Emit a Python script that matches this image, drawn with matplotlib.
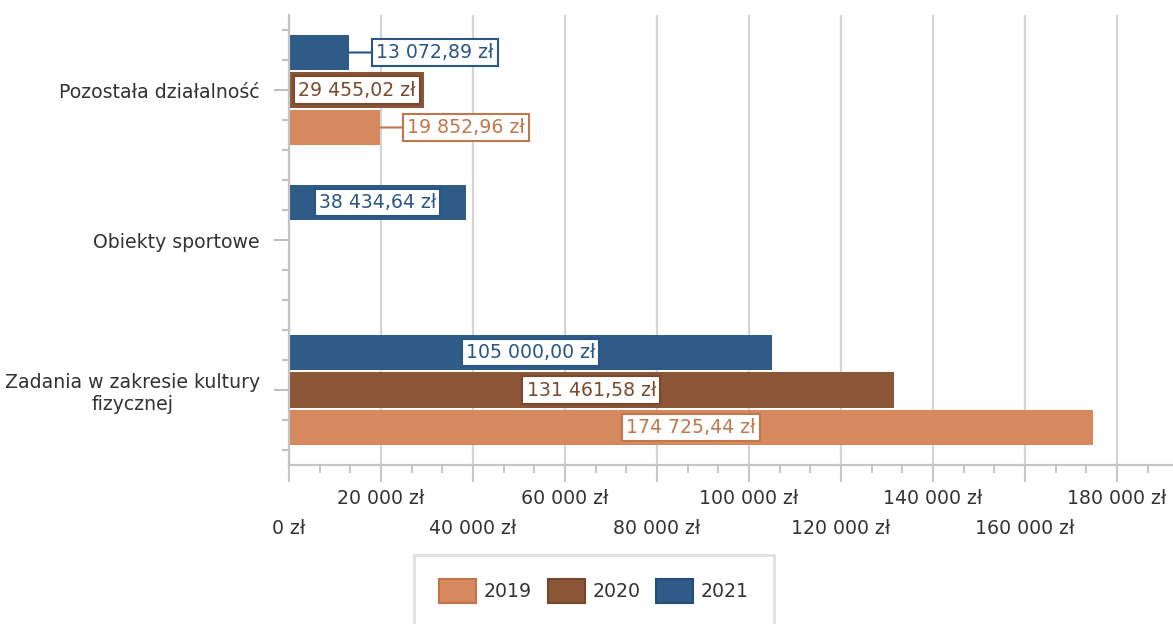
import numpy as np
import matplotlib
matplotlib.use("Agg")
import matplotlib.pyplot as plt
from matplotlib.patches import Patch
from matplotlib import transforms

# ---- data ----
categories = ["Pozostała działalność", "Obiekty sportowe",
              "Zadania w zakresie kultury\nfizycznej"]
years = ["2019", "2020", "2021"]
values_2019 = [19852.96, np.nan, 174725.44]
values_2020 = [29455.02, np.nan, 131461.58]
values_2021 = [13072.89, 38434.64, 105000.00]
axis_ticks = [0, 20000, 40000, 60000, 80000, 100000, 120000, 140000, 160000, 180000]

# ---- style ----
bar_colors = {"2019": "#D6895E", "2020": "#8A5637", "2021": "#2E5B88"}
label_colors = {"2019": "#C0774D", "2020": "#7A4A2E", "2021": "#2A5685"}
edge_colors = {"2019": "#C27447", "2020": "#74462A", "2021": "#264D76"}
offsets = {"2019": 0.25, "2020": 0.0, "2021": -0.25}
series = {"2019": values_2019, "2020": values_2020, "2021": values_2021}
text_color = "#333333"
grid_color = "#D4D4D4"
fs = 13.6

plt.rcParams["font.family"] = ["DejaVu Sans"]

fig = plt.figure(figsize=(11.73, 6.24), dpi=100)
ax = fig.add_axes([289 / 1173, (624 - 465) / 624, (1173 - 289) / 1173, 450 / 624])

ypos = np.arange(len(categories))
bar_h = 0.235


def pl_money(v, decimals=2):
    s = f"{v:,.{decimals}f}".replace(",", " ").replace(".", ",")
    return s + " zł"


for yr in years:
    vals = np.array(series[yr], dtype=float)
    yy = ypos + offsets[yr]
    ax.barh(yy, np.nan_to_num(vals), height=bar_h, color=bar_colors[yr],
            linewidth=0, zorder=2)
    for y, v in zip(yy, vals):
        if np.isnan(v):
            continue
        box = dict(boxstyle="square,pad=0.22", facecolor="white",
                   edgecolor=label_colors[yr], linewidth=1.5)
        if v > 25000:
            ax.text(v / 2, y, pl_money(v), ha="center", va="center",
                    fontsize=fs, color=label_colors[yr], bbox=box, zorder=4)
        else:
            ax.annotate(pl_money(v), xy=(v, y), xytext=(27, 0),
                        textcoords="offset pixels", ha="left", va="center",
                        fontsize=fs, color=label_colors[yr], bbox=box, zorder=4,
                        arrowprops=dict(arrowstyle="-", color=label_colors[yr],
                                        lw=1.5, shrinkA=0, shrinkB=0))

# ---- axes ----
ax.set_xlim(0, 192200)
ax.set_ylim(2.5, -0.5)

ax.set_yticks(ypos, labels=categories)
ax.set_yticks(np.arange(-0.4, 2.45, 0.2), minor=True)
ax.tick_params(axis="y", which="major", length=11, width=1.5, color="#BFBFBF",
               labelsize=fs, labelcolor=text_color, pad=10)
ax.tick_params(axis="y", which="minor", length=5, width=1.5, color="#BFBFBF")
for t in ax.get_yticklabels():
    t.set_multialignment("center")

ax.set_xticks(axis_ticks, labels=[""] * len(axis_ticks))
ax.set_xticks(np.arange(0, 192200, 20000 / 3), minor=True)
ax.tick_params(axis="x", which="major", length=12, width=1.5, color="#C8C8C8")
ax.tick_params(axis="x", which="minor", length=6, width=1.5, color="#C8C8C8")

row1 = transforms.offset_copy(ax.get_xaxis_transform(), fig=fig, x=0, y=-34, units="dots")
row2 = transforms.offset_copy(ax.get_xaxis_transform(), fig=fig, x=0, y=-64, units="dots")
for i, t in enumerate(axis_ticks):
    ax.text(t, 0, pl_money(t, 0), transform=row2 if i % 2 == 0 else row1,
            ha="center", va="center", fontsize=fs, color=text_color)

ax.grid(axis="x", which="major", color=grid_color, linewidth=1.6)
ax.set_axisbelow(True)
for side in ("top", "right"):
    ax.spines[side].set_visible(False)
for side in ("left", "bottom"):
    ax.spines[side].set_color("#C4C4C4")
    ax.spines[side].set_linewidth(1.6)

# ---- legend ----
handles = [Patch(facecolor=bar_colors[yr], edgecolor=edge_colors[yr], linewidth=1.5)
           for yr in years]
leg = fig.legend(handles, years, loc="center",
                 bbox_to_anchor=(594 / 1173, 1 - 591 / 624), ncol=3,
                 fontsize=fs, frameon=True, fancybox=False,
                 handlelength=1.95, handleheight=1.5, handletextpad=0.42,
                 columnspacing=0.84, borderpad=1.3)
leg.get_frame().set_edgecolor("#D9D9D9")
leg.get_frame().set_linewidth(2)
for t in leg.get_texts():
    t.set_color(text_color)

fig.savefig("out.png", dpi=100)
